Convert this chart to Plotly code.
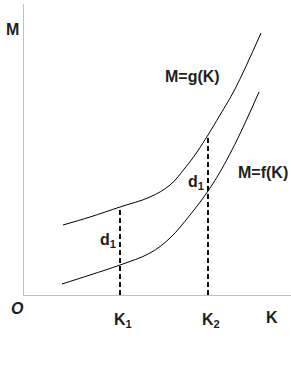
import plotly.graph_objects as go

# Curve M = g(K) (upper)
g_k = [39, 66, 96, 126, 146, 161, 173, 184, 196, 211, 237]
g_m = [70, 78, 88, 98, 110, 127, 143, 160, 180, 206, 262]

# Curve M = f(K) (lower)
f_k = [38, 66, 96, 126, 146, 166, 184, 196, 213, 235]
f_m = [11, 20, 30, 42, 57, 80, 104, 123, 155, 203]

# K1, K2 positions and top of dashed guide lines
k_pos = [96, 184]
k_top = [88, 160]
k_labels = ["K<sub>1</sub>", "K<sub>2</sub>"]

X_RANGE = [0, 267]
Y_RANGE = [0, 291]

FONT = "Liberation Sans, Arial, sans-serif"
TXT = "#1e1e1e"

fig = go.Figure()
fig.add_trace(go.Scatter(x=g_k, y=g_m, mode="lines",
                         line=dict(color="black", width=1, shape="spline", smoothing=1.1),
                         hoverinfo="skip"))
fig.add_trace(go.Scatter(x=f_k, y=f_m, mode="lines",
                         line=dict(color="black", width=1, shape="spline", smoothing=1.1),
                         hoverinfo="skip"))
for kx, kt in zip(k_pos, k_top):
    fig.add_trace(go.Scatter(x=[kx, kx], y=[0, kt], mode="lines",
                             line=dict(color="black", width=2, dash="5px,3px"),
                             hoverinfo="skip"))

def ann(x, y, text, size=16, italic=False):
    t = f"<i>{text}</i>" if italic else text
    fig.add_annotation(x=x / X_RANGE[1], y=y / Y_RANGE[1], text=f"<b>{t}</b>",
                       showarrow=False, xref="paper", yref="paper",
                       xanchor="center", yanchor="middle",
                       font=dict(family=FONT, size=size, color=TXT))

ann(-12, 266, "M")
ann(168, 219, "M=g(K)")
ann(239, 122, "M=f(K)")
ann(84, 55, "d<sub>1</sub>")
ann(172, 113, "d<sub>1</sub>")
ann(-7, -13, "O", italic=True)
for kx, lab in zip(k_pos, k_labels):
    ann(kx + 3, -25, lab)
ann(248, -22, "K")

fig.update_layout(
    width=291, height=365,
    margin=dict(l=24, r=0, t=4, b=70),
    paper_bgcolor="white", plot_bgcolor="white",
    showlegend=False,
    xaxis=dict(range=X_RANGE, showline=True, linecolor="#c0c0c0", linewidth=1,
               showgrid=False, zeroline=False, showticklabels=False, ticks="",
               fixedrange=True),
    yaxis=dict(range=Y_RANGE, showline=True, linecolor="#c0c0c0", linewidth=1,
               showgrid=False, zeroline=False, showticklabels=False, ticks="",
               fixedrange=True),
)

fig.write_html("out.html", config={"displayModeBar": False})
